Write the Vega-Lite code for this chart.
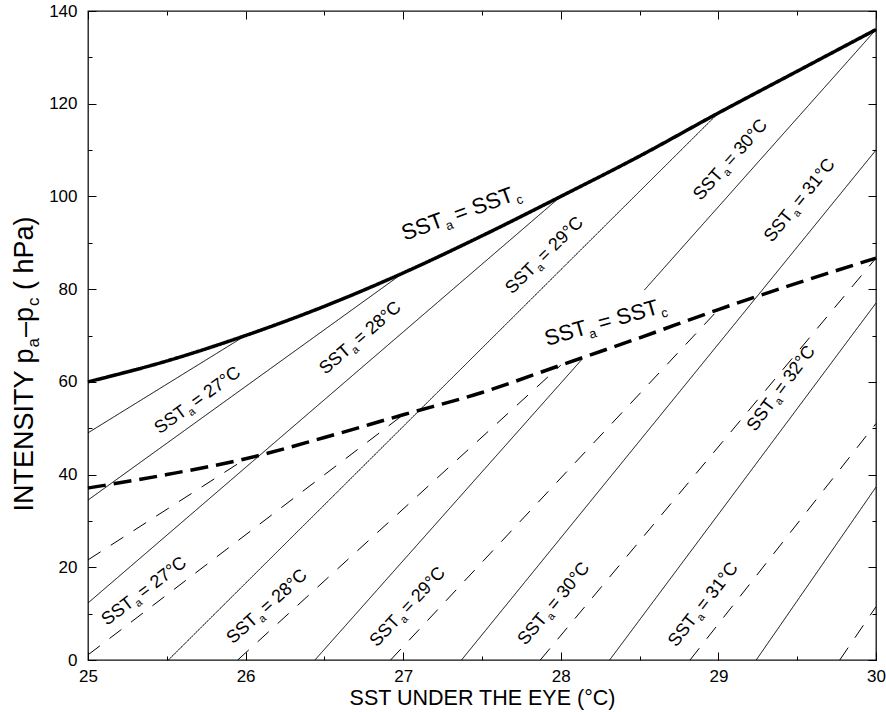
{
  "$schema": "https://vega.github.io/schema/vega-lite/v6.json",
  "width": 788,
  "height": 649,
  "autosize": {"type": "none"},
  "padding": {"left": 88, "top": 11, "right": 10, "bottom": 52},
  "background": "white",
  "config": {
    "view": {"stroke": "#111", "strokeWidth": 1.3},
    "font": "Liberation Sans",
    "text": {"font": "Liberation Sans", "color": "black"}
  },
  "datasets": {
    "thin": [
      {"id": "s26", "kind": "thin", "x": 25, "y": 49}, {"id": "s26", "kind": "thin", "x": 26, "y": 70},
      {"id": "s27", "kind": "thin", "x": 25, "y": 34.5}, {"id": "s27", "kind": "thin", "x": 27, "y": 83.5},
      {"id": "s28", "kind": "thin", "x": 25, "y": 12.3}, {"id": "s28", "kind": "thin", "x": 28, "y": 100},
      {"id": "s29", "kind": "thin", "x": 25.51, "y": 0}, {"id": "s29", "kind": "thin", "x": 29, "y": 118},
      {"id": "s30a", "kind": "thin", "x": 26.44, "y": 0}, {"id": "s30a", "kind": "thin", "x": 28.13, "y": 64.7},
      {"id": "s30b", "kind": "thin", "x": 28.53, "y": 79.8}, {"id": "s30b", "kind": "thin", "x": 30, "y": 136},
      {"id": "s31", "kind": "thin", "x": 27.37, "y": 0}, {"id": "s31", "kind": "thin", "x": 30, "y": 110},
      {"id": "s32", "kind": "thin", "x": 28.31, "y": 0}, {"id": "s32", "kind": "thin", "x": 30, "y": 77},
      {"id": "s33", "kind": "thin", "x": 29.24, "y": 0}, {"id": "s33", "kind": "thin", "x": 30, "y": 37.3},
      {"id": "d26", "kind": "thindash", "x": 25, "y": 21.6}, {"id": "d26", "kind": "thindash", "x": 26, "y": 43.4},
      {"id": "d27", "kind": "thindash", "x": 25, "y": 1.1}, {"id": "d27", "kind": "thindash", "x": 27, "y": 52.9},
      {"id": "d28", "kind": "thindash", "x": 25.95, "y": 0}, {"id": "d28", "kind": "thindash", "x": 28, "y": 63.6},
      {"id": "d29", "kind": "thindash", "x": 26.92, "y": 0}, {"id": "d29", "kind": "thindash", "x": 29, "y": 75.6},
      {"id": "d30", "kind": "thindash", "x": 27.87, "y": 0}, {"id": "d30", "kind": "thindash", "x": 30, "y": 86.7},
      {"id": "d31", "kind": "thindash", "x": 28.82, "y": 0}, {"id": "d31", "kind": "thindash", "x": 30, "y": 51},
      {"id": "d32", "kind": "thindash", "x": 29.77, "y": 0}, {"id": "d32", "kind": "thindash", "x": 30, "y": 11.5}
    ],
    "thick": [
      {"id": "ts", "kind": "thick", "x": 25, "y": 60}, {"id": "ts", "kind": "thick", "x": 25.5, "y": 64.5},
      {"id": "ts", "kind": "thick", "x": 26, "y": 70}, {"id": "ts", "kind": "thick", "x": 26.5, "y": 76.3},
      {"id": "ts", "kind": "thick", "x": 27, "y": 83.5}, {"id": "ts", "kind": "thick", "x": 27.5, "y": 91.5},
      {"id": "ts", "kind": "thick", "x": 28, "y": 100}, {"id": "ts", "kind": "thick", "x": 28.5, "y": 108.7},
      {"id": "ts", "kind": "thick", "x": 29, "y": 118}, {"id": "ts", "kind": "thick", "x": 29.5, "y": 127},
      {"id": "ts", "kind": "thick", "x": 30, "y": 136},
      {"id": "td", "kind": "thickdash", "x": 25, "y": 37.1}, {"id": "td", "kind": "thickdash", "x": 25.5, "y": 40},
      {"id": "td", "kind": "thickdash", "x": 26, "y": 43.4}, {"id": "td", "kind": "thickdash", "x": 26.5, "y": 48},
      {"id": "td", "kind": "thickdash", "x": 27, "y": 52.9}, {"id": "td", "kind": "thickdash", "x": 27.5, "y": 57.7},
      {"id": "td", "kind": "thickdash", "x": 28, "y": 63.6}, {"id": "td", "kind": "thickdash", "x": 28.5, "y": 69.5},
      {"id": "td", "kind": "thickdash", "x": 29, "y": 75.6}, {"id": "td", "kind": "thickdash", "x": 29.5, "y": 81.3},
      {"id": "td", "kind": "thickdash", "x": 30, "y": 86.7}
    ],
    "upper": [
      {"sst": 27, "x": 25.635, "y": 53.1, "post": "= 27°C"},
      {"sst": 28, "x": 26.675, "y": 66.4, "post": "= 28°C"},
      {"sst": 29, "x": 27.85, "y": 84.1, "post": "= 29°C"},
      {"sst": 30, "x": 29.036, "y": 104.6, "post": "= 30°C"},
      {"sst": 31, "x": 29.48, "y": 95.8, "post": "= 31°C"},
      {"sst": 32, "x": 29.366, "y": 55.2, "post": "= 32°C"}
    ],
    "lower": [
      {"sst": 27, "x": 25.298, "y": 11.9, "post": "= 27°C"},
      {"sst": 28, "x": 26.085, "y": 8.4, "post": "= 28°C"},
      {"sst": 29, "x": 26.986, "y": 8.2, "post": "= 29°C"},
      {"sst": 30, "x": 27.919, "y": 8.8, "post": "= 30°C"},
      {"sst": 31, "x": 28.87, "y": 8.6, "post": "= 31°C"}
    ],
    "big": [
      {"x": 27.265, "y": 93.6, "post": "= SST"},
      {"x": 28.173, "y": 70.3, "post": "= SST"}
    ]
  },
  "resolve": {
    "axis": {"x": "independent", "y": "independent"},
    "scale": {"angle": "independent"}
  },
  "layer": [
    {
      "data": {"name": "thin"},
      "mark": {"type": "line", "color": "black", "strokeWidth": 1},
      "encoding": {
        "x": {
          "field": "x", "type": "quantitative",
          "scale": {"domain": [25, 30], "nice": false, "zero": false},
          "axis": {
            "orient": "bottom",
            "values": [25, 25.5, 26, 26.5, 27, 27.5, 28, 28.5, 29, 29.5, 30],
            "format": ".0f",
            "domain": false, "grid": false,
            "tickColor": "black", "tickWidth": 1,
            "tickSize": {"condition": {"test": "datum.value % 1 === 0", "value": -8}, "value": -4},
            "labelExpr": "datum.value % 1 === 0 ? datum.label : ''",
            "labelFont": "Liberation Sans", "labelFontSize": 17, "labelColor": "black",
            "labelPadding": 16, "labelFlush": false, "labelOverlap": false, "labelBound": false,
            "title": "SST UNDER THE EYE (°C)",
            "titleFont": "Liberation Sans", "titleFontSize": 21.5, "titleFontWeight": "normal",
            "titleColor": "black", "titlePadding": -1
          }
        },
        "y": {
          "field": "y", "type": "quantitative",
          "scale": {"domain": [0, 140], "nice": false, "zero": false},
          "axis": {
            "orient": "left",
            "values": [0, 10, 20, 30, 40, 50, 60, 70, 80, 90, 100, 110, 120, 130, 140],
            "format": "d",
            "domain": false, "grid": false,
            "tickColor": "black", "tickWidth": 1,
            "tickSize": {"condition": {"test": "datum.value % 20 === 0", "value": -8}, "value": -4},
            "labelExpr": "datum.value % 20 === 0 ? datum.label : ''",
            "labelFont": "Liberation Sans", "labelFontSize": 17, "labelColor": "black",
            "labelPadding": 19, "labelFlush": false, "labelOverlap": false, "labelBound": false,
            "title": null
          }
        },
        "detail": {"field": "id"},
        "strokeDash": {
          "field": "kind", "type": "nominal",
          "scale": {"domain": ["thin", "thindash", "thick", "thickdash"], "range": [[1, 0], [15, 12], [1, 0], [18, 8]]},
          "legend": null
        }
      }
    },
    {
      "data": {"name": "thick"},
      "mark": {"type": "line", "color": "black", "strokeWidth": 3.5, "interpolate": "monotone"},
      "encoding": {
        "x": {"field": "x", "type": "quantitative", "axis": null},
        "y": {"field": "y", "type": "quantitative", "axis": null},
        "detail": {"field": "id"},
        "strokeDash": {
          "field": "kind", "type": "nominal",
          "scale": {"domain": ["thin", "thindash", "thick", "thickdash"], "range": [[1, 0], [15, 12], [1, 0], [18, 8]]},
          "legend": null
        }
      }
    },
    {
      "data": {"name": "upper"},
      "mark": {"type": "text", "text": "SST", "align": "right", "baseline": "alphabetic", "fontSize": 18},
      "encoding": {
        "x": {
          "field": "x", "type": "quantitative",
          "axis": {
            "orient": "top",
            "values": [25, 25.5, 26, 26.5, 27, 27.5, 28, 28.5, 29, 29.5, 30],
            "labels": false, "domain": false, "grid": false, "title": null,
            "tickColor": "black", "tickWidth": 1,
            "tickSize": {"condition": {"test": "datum.value % 1 === 0", "value": -8}, "value": -4}
          }
        },
        "y": {
          "field": "y", "type": "quantitative",
          "axis": {
            "orient": "right",
            "values": [0, 10, 20, 30, 40, 50, 60, 70, 80, 90, 100, 110, 120, 130, 140],
            "labels": false, "domain": false, "grid": false, "title": null,
            "tickColor": "black", "tickWidth": 1,
            "tickSize": {"condition": {"test": "datum.value % 20 === 0", "value": -8}, "value": -4}
          }
        },
        "angle": {"field": "sst", "type": "quantitative", "scale": {"domain": [27, 28, 29, 30, 31, 32], "range": [-36, -40.7, -44.8, -48.3, -51, -53.3], "nice": false, "zero": false}}
      }
    },
    {
      "data": {"name": "upper"},
      "mark": {"type": "text", "text": "a", "align": "left", "baseline": "alphabetic", "fontSize": 11, "dx": 1, "dy": 4},
      "encoding": {
        "x": {"field": "x", "type": "quantitative", "axis": null},
        "y": {"field": "y", "type": "quantitative", "axis": null},
        "angle": {"field": "sst", "type": "quantitative", "scale": {"domain": [27, 28, 29, 30, 31, 32], "range": [-36, -40.7, -44.8, -48.3, -51, -53.3], "nice": false, "zero": false}}
      }
    },
    {
      "data": {"name": "upper"},
      "mark": {"type": "text", "align": "left", "baseline": "alphabetic", "fontSize": 18, "dx": 10.5},
      "encoding": {
        "x": {"field": "x", "type": "quantitative", "axis": null},
        "y": {"field": "y", "type": "quantitative", "axis": null},
        "text": {"field": "post"},
        "angle": {"field": "sst", "type": "quantitative", "scale": {"domain": [27, 28, 29, 30, 31, 32], "range": [-36, -40.7, -44.8, -48.3, -51, -53.3], "nice": false, "zero": false}}
      }
    },
    {
      "data": {"name": "lower"},
      "mark": {"type": "text", "text": "SST", "align": "right", "baseline": "alphabetic", "fontSize": 18},
      "encoding": {
        "x": {"field": "x", "type": "quantitative", "axis": null},
        "y": {"field": "y", "type": "quantitative", "axis": null},
        "angle": {"field": "sst", "type": "quantitative", "scale": {"domain": [27, 28, 29, 30, 31], "range": [-37.2, -42.1, -46.9, -50.2, -51.9], "nice": false, "zero": false}}
      }
    },
    {
      "data": {"name": "lower"},
      "mark": {"type": "text", "text": "a", "align": "left", "baseline": "alphabetic", "fontSize": 11, "dx": 1, "dy": 4},
      "encoding": {
        "x": {"field": "x", "type": "quantitative", "axis": null},
        "y": {"field": "y", "type": "quantitative", "axis": null},
        "angle": {"field": "sst", "type": "quantitative", "scale": {"domain": [27, 28, 29, 30, 31], "range": [-37.2, -42.1, -46.9, -50.2, -51.9], "nice": false, "zero": false}}
      }
    },
    {
      "data": {"name": "lower"},
      "mark": {"type": "text", "align": "left", "baseline": "alphabetic", "fontSize": 18, "dx": 10.5},
      "encoding": {
        "x": {"field": "x", "type": "quantitative", "axis": null},
        "y": {"field": "y", "type": "quantitative", "axis": null},
        "text": {"field": "post"},
        "angle": {"field": "sst", "type": "quantitative", "scale": {"domain": [27, 28, 29, 30, 31], "range": [-37.2, -42.1, -46.9, -50.2, -51.9], "nice": false, "zero": false}}
      }
    },
    {
      "data": {"name": "big"},
      "mark": {"type": "text", "text": "SST", "align": "right", "baseline": "alphabetic", "fontSize": 22},
      "encoding": {
        "x": {"field": "x", "type": "quantitative", "axis": null},
        "y": {"field": "y", "type": "quantitative", "axis": null},
        "angle": {"field": "y", "type": "quantitative", "scale": {"domain": [70.3, 93.6], "range": [-16, -20], "nice": false, "zero": false}}
      }
    },
    {
      "data": {"name": "big"},
      "mark": {"type": "text", "text": "a", "align": "left", "baseline": "alphabetic", "fontSize": 13, "dx": 1, "dy": 5},
      "encoding": {
        "x": {"field": "x", "type": "quantitative", "axis": null},
        "y": {"field": "y", "type": "quantitative", "axis": null},
        "angle": {"field": "y", "type": "quantitative", "scale": {"domain": [70.3, 93.6], "range": [-16, -20], "nice": false, "zero": false}}
      }
    },
    {
      "data": {"name": "big"},
      "mark": {"type": "text", "align": "left", "baseline": "alphabetic", "fontSize": 22, "dx": 13},
      "encoding": {
        "x": {"field": "x", "type": "quantitative", "axis": null},
        "y": {"field": "y", "type": "quantitative", "axis": null},
        "text": {"field": "post"},
        "angle": {"field": "y", "type": "quantitative", "scale": {"domain": [70.3, 93.6], "range": [-16, -20], "nice": false, "zero": false}}
      }
    },
    {
      "data": {"name": "big"},
      "mark": {"type": "text", "text": "c", "align": "left", "baseline": "alphabetic", "fontSize": 13, "dx": 76, "dy": 5},
      "encoding": {
        "x": {"field": "x", "type": "quantitative", "axis": null},
        "y": {"field": "y", "type": "quantitative", "axis": null},
        "angle": {"field": "y", "type": "quantitative", "scale": {"domain": [70.3, 93.6], "range": [-16, -20], "nice": false, "zero": false}}
      }
    },
    {
      "data": {"values": [{}]},
      "mark": {"type": "text", "text": "INTENSITY p", "align": "right", "baseline": "alphabetic", "fontSize": 27, "angle": 270},
      "encoding": {
        "x": {"datum": 24.651, "type": "quantitative", "axis": null},
        "y": {"datum": 67.2, "type": "quantitative", "axis": null}
      }
    },
    {
      "data": {"values": [{}]},
      "mark": {"type": "text", "text": "a", "align": "left", "baseline": "alphabetic", "fontSize": 17, "angle": 270, "dx": 1, "dy": 6},
      "encoding": {
        "x": {"datum": 24.651, "type": "quantitative", "axis": null},
        "y": {"datum": 67.2, "type": "quantitative", "axis": null}
      }
    },
    {
      "data": {"values": [{}]},
      "mark": {"type": "text", "text": "–p", "align": "left", "baseline": "alphabetic", "fontSize": 27, "angle": 270, "dx": 11.5},
      "encoding": {
        "x": {"datum": 24.651, "type": "quantitative", "axis": null},
        "y": {"datum": 67.2, "type": "quantitative", "axis": null}
      }
    },
    {
      "data": {"values": [{}]},
      "mark": {"type": "text", "text": "c", "align": "left", "baseline": "alphabetic", "fontSize": 17, "angle": 270, "dx": 42.5, "dy": 6},
      "encoding": {
        "x": {"datum": 24.651, "type": "quantitative", "axis": null},
        "y": {"datum": 67.2, "type": "quantitative", "axis": null}
      }
    },
    {
      "data": {"values": [{}]},
      "mark": {"type": "text", "text": "( hPa)", "align": "left", "baseline": "alphabetic", "fontSize": 27, "angle": 270, "dx": 58.5},
      "encoding": {
        "x": {"datum": 24.651, "type": "quantitative", "axis": null},
        "y": {"datum": 67.2, "type": "quantitative", "axis": null}
      }
    }
  ]
}
